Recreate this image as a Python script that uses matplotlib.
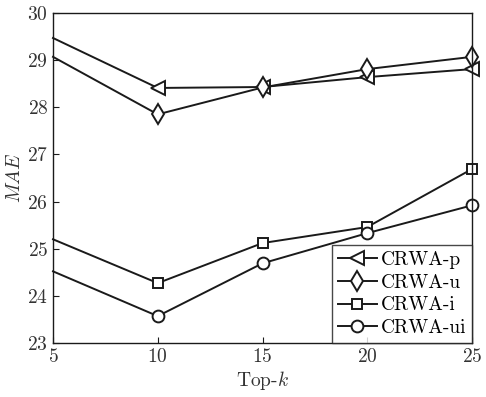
import matplotlib
matplotlib.use("Agg")
import matplotlib.pyplot as plt

plt.rcParams['font.family'] = 'cmr10'
plt.rcParams['mathtext.fontset'] = 'cm'
plt.rcParams['axes.formatter.use_mathtext'] = True
plt.rcParams['axes.unicode_minus'] = False

# values
top_k = [5, 10, 15, 20, 25]
crwa_p = [29.47, 28.41, 28.43, 28.64, 28.81]
crwa_u = [29.07, 27.85, 28.42, 28.81, 29.07]
crwa_i = [25.20, 24.27, 25.12, 25.46, 26.69]
crwa_ui = [24.52, 23.57, 24.69, 25.33, 25.92]

fig = plt.figure(figsize=(4.86, 3.97), dpi=100)
ax = fig.add_axes([53 / 486, 1 - 343 / 397, 419 / 486, 330 / 397])

style = dict(color='#1a1a1a', lw=1.4, mfc='white', mew=1.4, clip_on=False,
             markevery=[1, 2, 3, 4])
ax.plot(top_k, crwa_p, marker='<', ms=10, label='CRWA-p', **style)
ax.plot(top_k, crwa_u, marker='d', ms=10, label='CRWA-u', **style)
ax.plot(top_k, crwa_i, marker='s', ms=7, label='CRWA-i', **style)
ax.plot(top_k, crwa_ui, marker='o', ms=8.5, label='CRWA-ui', **style)

ax.set_xlim(5, 25)
ax.set_ylim(23, 30)
ax.set_xticks([5, 10, 15, 20, 25])
ax.set_yticks([23, 24, 25, 26, 27, 28, 29, 30])
ax.tick_params(direction='in', labelsize=14, length=4, colors='#1a1a1a',
               labelcolor='#333333')
for s in ax.spines.values():
    s.set_color('#1a1a1a')
    s.set_linewidth(1.0)

ax.set_xlabel('Top-$k$', fontsize=14, color='#333333', labelpad=2)
ax.set_ylabel('$MAE$', fontsize=14, color='#333333', labelpad=2)

leg = ax.legend(loc='lower right', fontsize=14, frameon=True, fancybox=False,
                borderaxespad=0, handlelength=2.0, handletextpad=0.2,
                labelspacing=0.25, borderpad=0.3)
leg.get_frame().set_edgecolor('#1a1a1a')
leg.get_frame().set_linewidth(1.0)

fig.savefig('out.png', dpi=100)
